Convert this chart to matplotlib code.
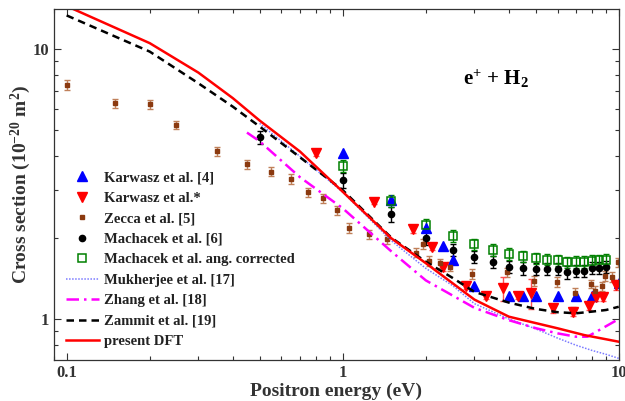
import matplotlib
matplotlib.use("Agg")
import matplotlib.pyplot as plt
from matplotlib.ticker import LogLocator, NullFormatter, FixedLocator, FixedFormatter

plt.rcParams['font.family'] = ['Liberation Serif', 'DejaVu Serif']
plt.rcParams['font.weight'] = 'bold'
plt.rcParams['mathtext.fontset'] = 'custom'
plt.rcParams['mathtext.rm'] = 'Liberation Serif:bold'
plt.rcParams['mathtext.it'] = 'Liberation Serif:bold'
plt.rcParams['mathtext.bf'] = 'Liberation Serif:bold'

# ---- experimental data ----
karw_x = [1.0, 1.5, 2.0, 2.3, 2.5, 3.0, 4.0, 4.5, 5.0, 6.0, 7.0, 8.0, 10.0]
karw_y = [4.1, 2.75, 2.17, 1.86, 1.66, 1.33, 1.22, 1.22, 1.22, 1.22, 1.22, 1.22, 1.36]

karws_x = [0.8, 1.3, 1.8, 2.1, 2.3, 2.8, 3.3, 3.8, 4.3, 4.8, 5.8, 6.8, 7.8, 8.3, 8.8, 9.8]
karws_y = [4.11, 2.72, 2.15, 1.85, 1.56, 1.33, 1.22, 1.30, 1.22, 1.245, 1.095, 1.064, 1.12, 1.21, 1.21, 1.34]
karws_err = [0.1, 0.06, 0.06, 0.05, 0.05, 0.04, 0.03, 0.13, 0.03, 0.16, 0.04, 0.04, 0.04, 0.04, 0.04, 0.06]

zecca_x = [0.1, 0.15, 0.2, 0.25, 0.35, 0.45, 0.55, 0.65, 0.75, 0.85, 0.95, 1.05, 1.25, 1.45,
           1.85, 1.95, 2.05, 2.25, 2.45, 2.95, 3.95, 4.95, 5.95, 6.95, 7.95, 8.2, 8.7, 8.95, 9.45, 9.95]
zecca_y = [7.36, 6.29, 6.24, 5.23, 4.17, 3.74, 3.51, 3.30, 2.94, 2.80, 2.53, 2.18, 2.06, 1.97,
           1.76, 1.89, 1.64, 1.61, 1.56, 1.47, 1.49, 1.38, 1.37, 1.25, 1.35, 1.27, 1.32, 1.44, 1.43, 1.62]
zecca_err = [0.3, 0.25, 0.25, 0.2, 0.17, 0.15, 0.14, 0.13, 0.12, 0.11, 0.1, 0.09, 0.08, 0.08,
             0.07, 0.08, 0.07, 0.06, 0.06, 0.06, 0.06, 0.06, 0.06, 0.05, 0.05, 0.05, 0.05, 0.06, 0.06, 0.06]

mach_x = [0.5, 1.0, 1.5, 2.0, 2.5, 3.0, 3.5, 4.0, 4.5, 5.0, 5.5, 6.0, 6.5, 7.0, 7.5, 8.0, 8.5, 9.0]
mach_y = [4.71, 3.26, 2.44, 1.99, 1.80, 1.70, 1.63, 1.56, 1.54, 1.53, 1.53, 1.53, 1.49, 1.51, 1.51, 1.55, 1.55, 1.56]
mach_err = [0.25, 0.2, 0.15, 0.11, 0.09, 0.09, 0.08, 0.08, 0.08, 0.08, 0.08, 0.08, 0.08, 0.08, 0.08, 0.08, 0.08, 0.08]

machc_x = [1.0, 1.5, 2.0, 2.5, 3.0, 3.5, 4.0, 4.5, 5.0, 5.5, 6.0, 6.5, 7.0, 7.5, 8.0, 8.5, 9.0]
machc_y = [3.69, 2.74, 2.23, 2.03, 1.89, 1.80, 1.74, 1.71, 1.68, 1.66, 1.65, 1.62, 1.63, 1.63, 1.64, 1.65, 1.66]
machc_err = [0.2, 0.15, 0.12, 0.1, 0.09, 0.09, 0.09, 0.08, 0.08, 0.08, 0.08, 0.08, 0.08, 0.08, 0.08, 0.08, 0.08]

# ---- theory curves ----
mukh_x = [0.5, 0.7, 1.0, 1.5, 2.0, 2.5, 3.0, 4.0, 5.0, 6.0, 7.0, 8.0, 9.0, 10.0]
mukh_y = [5.3, 4.0, 2.95, 1.95, 1.54, 1.33, 1.14, 1.0, 0.92, 0.85, 0.80, 0.765, 0.74, 0.715]

zhang_x = [0.45, 0.5, 0.7, 1.0, 1.5, 2.0, 3.0, 4.0, 5.0, 6.0, 7.0, 7.7, 8.5, 10.0]
zhang_y = [4.9, 4.55, 3.35, 2.57, 1.78, 1.39, 1.10, 0.99, 0.925, 0.885, 0.86, 0.86, 0.91, 1.0]

zamm_x = [0.1, 0.2, 0.3, 0.4, 0.5, 0.7, 1.0, 1.5, 2.0, 2.5, 3.0, 4.0, 5.0, 6.0, 7.0, 8.0, 9.0, 10.0]
zamm_y = [13.3, 9.77, 7.46, 6.11, 5.16, 3.97, 3.0, 2.0, 1.63, 1.42, 1.26, 1.15, 1.09, 1.06, 1.05, 1.065, 1.08, 1.11]

dft_x = [0.1, 0.2, 0.3, 0.4, 0.5, 0.7, 1.0, 1.5, 2.0, 3.0, 4.0, 6.0, 7.5, 10.0]
dft_y = [14.4, 10.5, 8.17, 6.57, 5.43, 4.17, 2.96, 1.99, 1.61, 1.18, 1.02, 0.924, 0.872, 0.824]

fig = plt.figure(figsize=(6.25, 4.01), dpi=100)
ax = fig.add_axes([0.0864, 0.1022, 0.9036, 0.8754])

brown = '#8b3a10'

# error bars first (no legend)
ax.errorbar(zecca_x, zecca_y, yerr=zecca_err, fmt='none', ecolor='#c0805a', elinewidth=1, capsize=2.5)
ax.errorbar(mach_x, mach_y, yerr=mach_err, fmt='none', ecolor='black', elinewidth=1, capsize=2.5)
ax.errorbar(machc_x, machc_y, yerr=machc_err, fmt='none', ecolor='#008000', elinewidth=1, capsize=2.5)
ax.errorbar(karws_x, karws_y, yerr=karws_err, fmt='none', ecolor='#ff5050', elinewidth=1, capsize=2.5)

ax.plot(karw_x, karw_y, ls='none', marker='^', ms=7, color='#0000ff', label='Karwasz et al. [4]')
ax.plot(karws_x, karws_y, ls='none', marker='v', ms=7, color='#ff0000', label='Karwasz et al.*')
ax.plot(zecca_x, zecca_y, ls='none', marker='s', ms=3.5, color=brown, label='Zecca et al. [5]')
ax.plot(mach_x, mach_y, ls='none', marker='o', ms=4.5, color='black', label='Machacek et al. [6]')
ax.plot(machc_x, machc_y, ls='none', marker='s', ms=5.5, mfc='none', mec='#008000', mew=1.1,
        label='Machacek et al. ang. corrected')
ax.plot(mukh_x, mukh_y, ls=(0, (1, 1)), lw=1.1, color='#7b7bff', label='Mukherjee et al. [17]')
ax.plot(zhang_x, zhang_y, ls=(0, (5, 2, 1, 2)), lw=1.8, color='#ff00ff', label='Zhang et al. [18]')
ax.plot(zamm_x, zamm_y, ls=(0, (3, 2)), lw=1.8, color='black', label='Zammit et al. [19]')
ax.plot(dft_x, dft_y, ls='-', lw=1.8, color='#ff0000', label='present DFT')

ax.set_xscale('log')
ax.set_yscale('log')
ax.set_xlim(0.09, 10.0)
ax.set_ylim(0.705, 14.05)

ax.xaxis.set_major_locator(FixedLocator([0.1, 1, 10]))
ax.xaxis.set_major_formatter(FixedFormatter(['0.1', '1', '10']))
ax.yaxis.set_major_locator(FixedLocator([1, 10]))
ax.yaxis.set_major_formatter(FixedFormatter(['1', '10']))
ax.xaxis.set_minor_locator(LogLocator(base=10, subs=range(2, 10)))
ax.yaxis.set_minor_locator(LogLocator(base=10, subs=range(2, 10)))
ax.xaxis.set_minor_formatter(NullFormatter())
ax.yaxis.set_minor_formatter(NullFormatter())
ax.tick_params(which='both', direction='in', top=True, right=True, colors='#333333',
               labelsize=12, width=0.8)
ax.tick_params(which='major', length=5)
ax.tick_params(which='minor', length=3)
for s in ax.spines.values():
    s.set_color('#333333')
    s.set_linewidth(0.9)

ax.set_xlabel('Positron energy (eV)', fontsize=14, fontweight='bold', color='#333333', labelpad=1)
ax.set_ylabel(r'Cross section (10$^{-20}$ m$^{2}$)', fontsize=14, fontweight='bold',
              color='#333333', labelpad=0)

ax.text(0.783, 0.80, r'e$^{+}$ + H$_{2}$', transform=ax.transAxes, fontsize=15,
        fontweight='bold', ha='center', va='center')

leg = ax.legend(loc='lower left', bbox_to_anchor=(0.0, 0.0), frameon=False, fontsize=10.5,
                handlelength=2.3, handletextpad=0.3, labelspacing=0.5, borderaxespad=0.4)
for t in leg.get_texts():
    t.set_color('#222222')

fig.savefig('out.png', dpi=100)
